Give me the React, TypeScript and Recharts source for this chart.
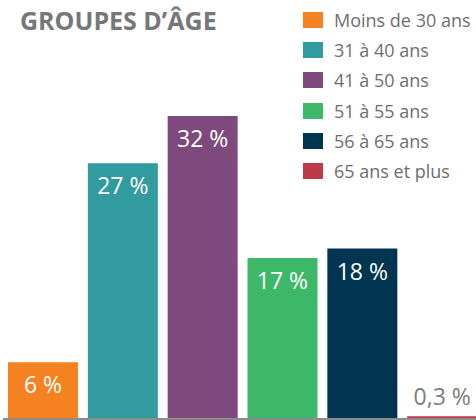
import { Bar, BarChart, Cell, LabelList, XAxis, YAxis } from "recharts";

const categories = ["Moins de 30 ans", "31 à 40 ans", "41 à 50 ans", "51 à 55 ans", "56 à 65 ans", "65 ans et plus"];
const shares = [6, 27, 32, 17, 18, 0.3];
const shareLabels = ["6 %", "27 %", "32 %", "17 %", "18 %", "0,3 %"];
const colors = ["#F58220", "#319B9F", "#7E497D", "#3DB868", "#003551", "#BE3A48"];

const data = categories.map((name, i) => ({ name, value: shares[i], label: shareLabels[i] }));

const font = "'Open Sans', 'Noto Sans', sans-serif";

function renderLabel(props: any) {
  const { x, y, width, value, index } = props;
  const last = index === data.length - 1;
  return (
    <text
      x={x + width / 2}
      y={last ? y - 11 : y + 31}
      textAnchor="middle"
      fill={last ? "#7d7d7d" : "#ffffff"}
      fontSize={23}
      fontFamily={font}
    >
      {value}
    </text>
  );
}

function AgeLegend() {
  return (
    <div style={{ position: "absolute", top: 5, left: 303, width: 175, fontFamily: font }}>
      {categories.map((c, i) => (
        <div key={c} style={{ display: "flex", alignItems: "center", height: 30.2 }}>
          <span style={{ width: 20, height: 16, background: colors[i], marginRight: 11, flexShrink: 0 }} />
          <span style={{ fontSize: 18, color: "#6d6e71", whiteSpace: "nowrap" }}>{c}</span>
        </div>
      ))}
    </div>
  );
}

export default function App() {
  return (
    <div style={{ position: "absolute", left: 0, top: 0, width: 476, height: 420, overflow: "hidden", background: "#fff" }}>
      <BarChart width={482} height={420} data={data} margin={{ top: 116, right: 0, bottom: 0, left: 3 }}>
        <XAxis
          dataKey="name"
          tick={false}
          tickLine={false}
          height={1}
          axisLine={{ stroke: "#8c8c8c", strokeWidth: 2 }}
        />
        <YAxis hide domain={[0, 32]} />
        <Bar dataKey="value" barSize={70} isAnimationActive={false}>
          {data.map((d, i) => (
            <Cell key={d.name} fill={colors[i]} />
          ))}
          <LabelList dataKey="label" content={renderLabel} />
        </Bar>
      </BarChart>
      <div
        style={{
          position: "absolute",
          left: 20,
          top: 8,
          fontFamily: font,
          fontWeight: 700,
          fontSize: 25,
          lineHeight: 1,
          color: "#75787b",
          whiteSpace: "nowrap",
        }}
      >
        GROUPES D’ÂGE
      </div>
      <AgeLegend />
    </div>
  );
}
